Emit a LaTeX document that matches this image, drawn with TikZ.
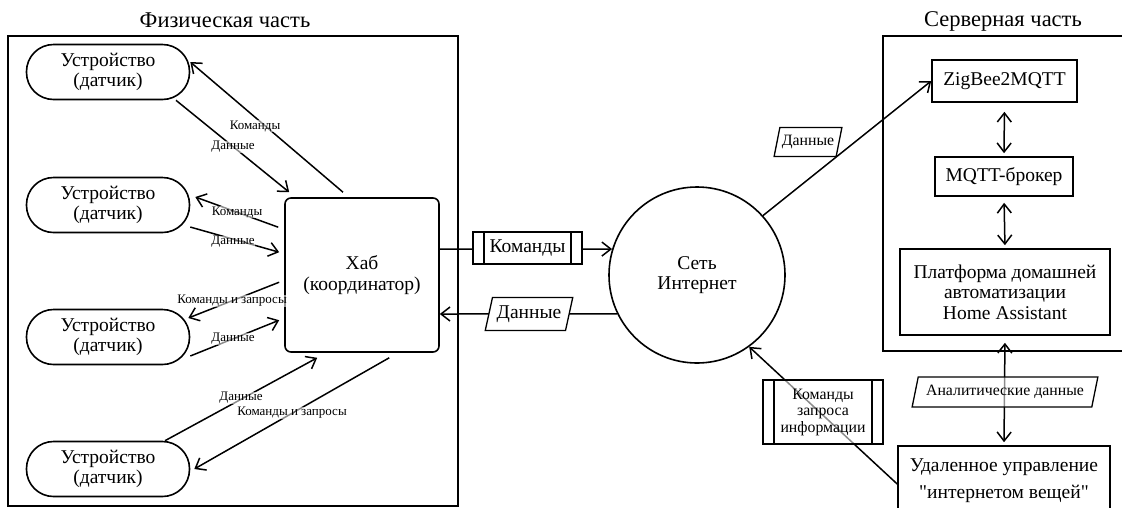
\documentclass[tikz,border=0pt]{standalone}
\usepackage{fontspec}
\setmainfont{Liberation Serif}
\usetikzlibrary{arrows.meta,shapes.geometric}

\newcommand{\txtbig}{\fontsize{19.5}{20.5}\selectfont}
\newcommand{\txttitle}{\fontsize{22.5}{24}\selectfont}
\newcommand{\txtmid}{\fontsize{15.8}{16.5}\selectfont}
\newcommand{\txtsmall}{\fontsize{13}{13.5}\selectfont}

\tikzset{
    arr/.style={line width=1.5pt, -{Straight Barb[length=9pt,width=14pt,line width=1.5pt]}},
    biarr/.style={line width=1.5pt, {Straight Barb[length=9pt,width=14pt,line width=1.5pt]}-{Straight Barb[length=9pt,width=14pt,line width=1.5pt]}},
    device/.style={draw, line width=1.6pt, rounded corners=27pt, minimum width=163pt, minimum height=55pt, align=center, font=\txtbig},
    block/.style={draw, line width=1.6pt, align=center, font=\txtbig},
    datalbl/.style={draw, line width=1.3pt, trapezium, trapezium left angle=72, trapezium right angle=108,
        trapezium stretches=true, fill=white, inner sep=2pt},
    procbox/.style={draw, line width=1.3pt, fill=white, align=center, inner sep=2pt,
        path picture={\draw[line width=1.3pt]
            ([xshift=11pt]path picture bounding box.north west) -- ([xshift=11pt]path picture bounding box.south west)
            ([xshift=-11pt]path picture bounding box.north east) -- ([xshift=-11pt]path picture bounding box.south east);}},
    see/.style={fill=white, fill opacity=0.55, text opacity=1},
    tag/.style={font=\txtsmall, inner sep=0.5pt, see}
}

\begin{document}
\begin{tikzpicture}[x=1pt, y=-1pt]
    \useasboundingbox (0,0) rectangle (1122,507);

    %%the two parts
    \node[font=\txttitle] (titleL) at (225, 20){Физическая часть};
    \draw[line width=1.6pt] (8, 36) rectangle (458, 506);
    \node[font=\txttitle] (titleR) at (1003, 21){Серверная часть};
    \draw[line width=1.6pt] (883, 36) rectangle (1130, 351);

    %%devices and hub
    \node[device] (dev1) at (108, 72){Устройство\\(датчик)};
    \node[device] (dev2) at (108, 205){Устройство\\(датчик)};
    \node[device] (dev3) at (108, 337){Устройство\\(датчик)};
    \node[device] (dev4) at (108, 469){Устройство\\(датчик)};
    \node[block, rounded corners=6pt, minimum width=154pt, minimum height=154pt] (hub) at (362, 275){Хаб\\(координатор)};

    %%internet
    \node[draw, circle, line width=1.6pt, minimum size=176pt, align=center, font=\txtbig] (net) at (697, 275){Сеть\\Интернет};

    %%server side
    \node[block, minimum width=145pt, minimum height=42pt] (zig) at (1004.5, 81){ZigBee2MQTT};
    \node[block, minimum width=138pt, minimum height=39pt] (mqtt) at (1004, 176.5){MQTT-брокер};
    \node[block, minimum width=210pt, minimum height=86pt] (ha) at (1005, 292){Платформа домашней\\автоматизации\\Home Assistant};
    \node[block, minimum width=212pt, minimum height=70pt, font=\fontsize{19.5}{27}\selectfont] (remote) at (1004, 481){Удаленное управление\\\textquotedbl интернетом вещей\textquotedbl};

    %%hub <-> devices
    \draw[arr] ([xshift=-19, yshift=5]hub.north) to ([yshift=10]dev1.east);
    \draw[arr] ([xshift=68]dev1.south) to ([xshift=5, yshift=5]hub.north west);
    \draw[arr] ([xshift=-6, yshift=-30]hub.north west) to ([xshift=5, yshift=8]dev2.east);
    \draw[arr] (dev2.-15) to ([xshift=-5, yshift=-55]hub.north west);
    \draw[arr] ([xshift=-5, yshift=-85]hub.north west) to ([xshift=-2, yshift=19]dev3.east);
    \draw[arr] ([yshift=-19]dev3.east) to ([xshift=-5, yshift=-123]hub.north west);
    \draw[arr] ([xshift=57]dev4.north) to ([xshift=33, yshift=-5]hub.south west);
    \draw[arr] ([xshift=105, yshift=-5]hub.south west) to ([xshift=4]dev4.east);

        \node[tag] (l1) at (255, 126){Команды};
        \node[tag] (l2) at (233, 147){Данные};
        \node[tag] (l3) at (237, 212){Команды};
        \node[tag] (l4) at (233, 242){Данные};
        \node[tag] (l5) at (232, 301){Команды и запросы};
        \node[tag] (l6) at (233, 339){Данные};
        \node[tag] (l7) at (241, 398){Данные};
        \node[tag] (l8) at (292, 413){Команды и запросы};

    %%hub <-> internet
    \draw[arr] ([yshift=26]hub.east) to (net.163);
    \draw[arr] (net.206) to ([yshift=-39]hub.east);
        \node[procbox, font=\txtbig, minimum width=109pt, minimum height=32pt] (cmd) at (527.5, 248){Команды};
        \node[datalbl, font=\txtbig, minimum width=88pt, minimum height=33pt] (dat) at (529, 314){Данные};

    %%internet <-> server
    \draw[arr] (net.42) to (zig.west);
    \draw[biarr, shorten <=9pt, shorten >=3pt] (zig.south) to (mqtt.north);
    \draw[biarr, shorten <=6pt, shorten >=3pt] (mqtt.south) to (ha.north);
    \draw[biarr, shorten <=7pt, shorten >=3pt] (ha.south) to (remote.north);
    \draw[arr] ([yshift=-3]remote.west) to (net.-54);
        \node[datalbl, font=\txtmid, see, minimum width=68pt, minimum height=29pt] (datR) at (808, 142){Данные};
        \node[datalbl, font=\txtmid, see, minimum width=186pt, minimum height=30pt] (anl) at (1005, 392){Аналитические данные};
        \node[procbox, font=\txtmid, see, minimum width=120pt, minimum height=64pt] (req) at (823, 412){Команды\\запроса\\информации};
\end{tikzpicture}
\end{document}
